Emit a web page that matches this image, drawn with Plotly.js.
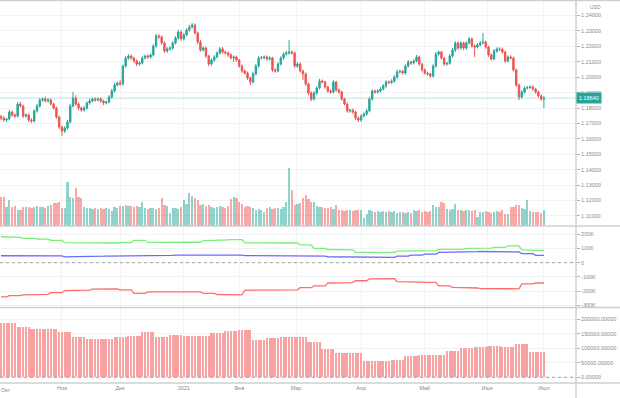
<!DOCTYPE html>
<html><head><meta charset="utf-8">
<script src="https://cdn.plot.ly/plotly-3.0.1.min.js"></script>
<style>html,body{margin:0;padding:0;background:#fff}#chart{width:620px;height:398px}</style>
</head><body><div id="chart"></div>
<script>
// ---------- data ----------
const monthLabels = ['Окт','Ноя','Дек','2021','Фев','Мар','Апр','Май','Июн','Июл'];
const monthStartBar = [0,22,43,66,86,106.5,130,153,175.5,196];
const priceTicks = [1.11,1.12,1.13,1.14,1.15,1.16,1.17,1.18,1.19,1.20,1.21,1.22,1.23,1.24];
const cotTicks = [200000,100000,0,-100000,-200000,-300000];
const cotTickText = ['200K','100K','0','-100K','-200K','-300K'];
const histTicks = [0,50000,100000,150000,200000];
const lastPrice = 1.18640;

const firstOpen = 1.1745;
const closes = [
1.1735,1.1722,1.1729,1.1774,1.1755,1.1748,1.1826,1.1813,1.1748,1.1755,
1.1722,1.1716,1.1781,1.1813,1.1852,1.1858,1.1846,1.1852,1.1826,1.1800,
1.1742,1.1677,1.1651,1.1670,1.1709,1.1813,1.1865,1.1826,1.1800,1.1787,
1.1800,1.1833,1.1846,1.1858,1.1852,1.1858,1.1846,1.1833,1.1839,1.1871,
1.1910,1.1949,1.1962,1.1956,1.2072,1.2124,1.2137,1.2124,1.2105,1.2085,
1.2092,1.2124,1.2137,1.2131,1.2144,1.2202,1.2267,1.2261,1.2222,1.2170,
1.2183,1.2189,1.2222,1.2254,1.2293,1.2248,1.2274,1.2306,1.2325,1.2338,
1.2287,1.2228,1.2176,1.2189,1.2137,1.2085,1.2111,1.2131,1.2157,1.2183,
1.2163,1.2157,1.2144,1.2124,1.2131,1.2111,1.2072,1.2040,1.2027,1.1995,
1.1969,1.2021,1.2072,1.2124,1.2127,1.2131,1.2118,1.2124,1.2047,1.2040,
1.2085,1.2124,1.2150,1.2157,1.2163,1.2157,1.2072,1.2085,1.2040,1.2021,
1.1956,1.1897,1.1858,1.1897,1.1930,1.1975,1.1969,1.1936,1.1910,1.1904,
1.1969,1.1917,1.1904,1.1858,1.1826,1.1781,1.1785,1.1774,1.1735,1.1722,
1.1748,1.1761,1.1781,1.1858,1.1910,1.1904,1.1910,1.1923,1.1943,1.1969,
1.1966,1.1975,1.2001,1.2034,1.2038,1.2027,1.2072,1.2098,1.2092,1.2105,
1.2131,1.2085,1.2047,1.2027,1.2021,1.2008,1.2072,1.2150,1.2163,1.2124,
1.2085,1.2090,1.2137,1.2176,1.2222,1.2189,1.2222,1.2189,1.2222,1.2248,
1.2202,1.2196,1.2209,1.2222,1.2228,1.2196,1.2144,1.2118,1.2170,1.2183,
1.2180,1.2163,1.2105,1.2131,1.2124,1.2047,1.1949,1.1871,1.1904,1.1930,
1.1933,1.1936,1.1923,1.1904,1.1878,1.1858,1.1864];
const upperWickPips = [
10,12,8,14,10,9,12,15,8,10, 9,12,10,14,12,10,16,11,9,8,
10,9,8,12,14,15,39,18,10,9, 12,10,14,9,11,10,12,8,10,12,
14,16,12,20,10,14,12,10,9,11, 10,12,9,11,10,12,14,12,10,9,
12,10,11,12,14,10,12,11,14,13, 10,9,12,10,9,8,11,12,10,13,
12,10,9,11,10,9,8,10,9,10, 8,12,14,12,10,11,9,12,8,10,
12,11,10,12,78,10,9,12,10,8, 9,8,10,12,11,14,10,9,8,10,
14,8,10,9,8,10,9,11,8,9, 12,10,13,14,12,10,11,12,13,12,
10,11,12,14,10,9,12,13,10,11, 13,9,8,10,9,8,12,14,10,8,
9,10,12,14,12,10,11,9,12,14, 10,11,12,13,59,9,8,10,12,11,
10,12,9,10,11,9,8,9,12,10, 11,10,12,9,8,10,12];
const lowerWickPips = [
12,10,14,9,11,12,10,9,12,10, 14,12,9,10,11,12,10,12,11,10,
12,14,31,12,10,9,10,12,14,11, 10,9,12,10,11,9,12,14,10,9,
10,11,9,12,10,9,11,10,12,14, 11,10,9,12,10,9,10,12,11,13,
12,10,11,9,10,12,10,9,11,10, 9,11,12,10,12,14,10,11,9,10,
11,10,12,9,26,10,11,12,10,12, 20,10,9,11,10,12,11,10,12,11,
10,9,11,10,12,10,11,12,10,39, 12,14,12,10,11,9,10,12,11,12,
10,11,12,10,9,11,12,10,12,13, 12,10,11,9,10,11,12,10,9,11,
10,9,11,12,10,11,10,9,12,10, 9,11,12,10,11,12,10,9,11,12,
10,11,9,10,12,11,10,12,11,10, 11,65,10,9,10,11,12,10,9,11,
10,11,12,10,9,11,12,19,10,11, 10,9,11,12,10,11,58];
const volumes = [
29,29,19,26,19,20,16,16,19,19, 19,18,19,20,19,19,18,20,21,23,
23,24,18,18,44,29,28,38,29,28, 19,18,18,17,18,17,18,17,18,17,
15,19,18,20,20,21,20,20,19,20, 19,24,18,17,18,18,17,18,28,21,
20,13,18,18,17,19,26,22,33,30, 28,26,21,22,20,21,19,18,19,20,
19,18,20,27,29,28,24,22,19,20, 19,18,16,17,16,14,18,19,17,18,
18,17,19,24,58,36,21,22,23,28, 31,27,24,24,20,19,19,18,18,19,
17,21,16,16,15,16,16,15,16,16, 16,8,12,16,15,14,15,14,15,14,
15,14,15,13,14,14,13,14,13,16, 15,16,14,15,14,15,21,19,19,24,
23,17,16,17,22,16,16,15,16,16, 15,16,9,14,14,15,14,13,14,15,
14,16,12,12,19,19,21,21,18,17, 26,15,14,14,14,13,16];
// weekly COT values, thousands of contracts
const cotGreenK = [183,178,172,166,157,141,137,136,139,142,158,143,143,143,144,156,161,162,140,139,139,139,125,101,93,91,73,72,72,82,84,85,94,96,101,103,108,118,90,87];
const cotBlueK  = [49,50,50,49,48,41,44,46,47,47,52,51,52,54,56,56,55,54,50,49,49,49,50,47,42,41,38,37,38,46,54,60,73,77,78,79,78,76,64,52];
const cotRedK   = [-240,-232,-226,-223,-211,-196,-193,-186,-185,-191,-216,-205,-204,-203,-205,-216,-224,-226,-193,-192,-192,-191,-176,-163,-143,-140,-127,-114,-113,-133,-137,-139,-163,-173,-178,-182,-183,-184,-149,-143];
const histWeeklyK = [186,172,165,165,155,138,133,133,139,141,157,140,146,142,142,152,160,163,129,137,138,138,121,97,83,83,57,57,61,74,78,78,92,100,106,109,104,115,86];

// ---------- build ----------
const idx = closes.map((_, i) => i);
const opens = [firstOpen].concat(closes.slice(0, -1));
const highs = closes.map((c, i) => Math.max(c, opens[i]) + upperWickPips[i] / 10000);
const lows  = closes.map((c, i) => Math.min(c, opens[i]) - lowerWickPips[i] / 10000);
const volColors = closes.map((c, i) => c >= opens[i] ? 'rgba(38,166,154,0.5)' : 'rgba(239,83,80,0.5)');
const lineWeek = i => i < 3 ? 0 : Math.min(cotGreenK.length - 1, Math.floor((i - 3) / 5) + 1);
const histWeek = i => i < 6 ? 0 : Math.min(histWeeklyK.length - 1, Math.floor((i - 6) / 5) + 1);
const greenDaily = idx.map(i => cotGreenK[lineWeek(i)] * 1000);
const blueDaily  = idx.map(i => cotBlueK[lineWeek(i)] * 1000);
const redDaily   = idx.map(i => cotRedK[lineWeek(i)] * 1000);
const histDaily  = idx.map(i => histWeeklyK[histWeek(i)] * 1000);

const FONT = 'Liberation Sans, Arial, sans-serif';
const tickFont = {family: FONT, size: 5.5, color: '#8a8a8a'};
const sep = '#cfcfcf';

const traces = [
  {type:'bar', x: idx, y: volumes, yaxis:'y2', marker:{color: volColors, line:{width:0}}, width:0.8, hoverinfo:'skip'},
  {type:'candlestick', x: idx, open: opens, high: highs, low: lows, close: closes, xaxis:'x', yaxis:'y',
   increasing:{line:{color:'#26a69a', width:1}, fillcolor:'#26a69a'},
   decreasing:{line:{color:'#ef5350', width:1}, fillcolor:'#ef5350'},
   whiskerwidth:0, hoverinfo:'skip'},
  {type:'scatter', mode:'lines', x: idx, y: greenDaily, yaxis:'y3', line:{color:'#78f078', width:1.3}, hoverinfo:'skip'},
  {type:'scatter', mode:'lines', x: idx, y: blueDaily, yaxis:'y3', line:{color:'#6a6aff', width:1.3}, hoverinfo:'skip'},
  {type:'scatter', mode:'lines', x: idx, y: redDaily, yaxis:'y3', line:{color:'#ff6c6c', width:1.3}, hoverinfo:'skip'},
  {type:'bar', x: idx, y: histDaily, yaxis:'y4', marker:{color:'#f8a3a3', line:{width:0}}, width:0.75, hoverinfo:'skip'}
];

const yCommon = {side:'right', anchor:'x', ticks:'outside', ticklen:3, tickcolor:'#b0b0b0',
  tickfont: tickFont, showgrid:true, gridcolor:'#f2f3f5', zeroline:false, showline:false, fixedrange:true};
const xR = 620/576;
const layout = {
  width:620, height:398, margin:{l:0, r:44, t:0, b:15},
  paper_bgcolor:'#ffffff', plot_bgcolor:'#ffffff', showlegend:false, bargap:0,
  xaxis:{range:[-0.361, 207.58], tickvals: monthStartBar, ticktext: monthLabels, tickfont: tickFont,
    showgrid:true, gridcolor:'#f2f3f5', zeroline:false, showline:false, ticks:'', anchor:'y4',
    rangeslider:{visible:false}, fixedrange:true},
  yaxis: Object.assign({}, yCommon, {domain:[0.4099, 1], range:[1.10349, 1.25005], tickvals: priceTicks, tickformat:'.5f'}),
  yaxis2:{overlaying:'y', range:[0, 226], visible:false, fixedrange:true},
  yaxis3: Object.assign({}, yCommon, {domain:[0.1971, 0.4099], range:[-315500, 258500], tickvals: cotTicks, ticktext: cotTickText}),
  yaxis4: Object.assign({}, yCommon, {domain:[0, 0.1971], range:[-19700, 240700], tickvals: histTicks, tickformat:'.5f'}),
  shapes:[
    {type:'line', xref:'paper', yref:'y', x0:0, x1:1, y0:lastPrice, y1:lastPrice, line:{color:'rgba(38,166,154,0.3)', width:1}},
    {type:'line', xref:'paper', yref:'y3', x0:0, x1:1, y0:0, y1:0, line:{color:'#a0a0a0', width:1, dash:'dot'}},
    {type:'line', xref:'paper', yref:'y4', x0:0, x1:1, y0:0, y1:0, line:{color:'#a0a0a0', width:1, dash:'dot'}},
    {type:'line', xref:'paper', yref:'paper', x0:0, x1:xR, y0:0.999, y1:0.999, line:{color:sep, width:1.5}},
    {type:'line', xref:'paper', yref:'paper', x0:0, x1:xR, y0:0.4099, y1:0.4099, line:{color:sep, width:1.5}},
    {type:'line', xref:'paper', yref:'paper', x0:0, x1:xR, y0:0.1971, y1:0.1971, line:{color:sep, width:1.5}},
    {type:'line', xref:'paper', yref:'paper', x0:0, x1:xR, y0:0, y1:0, line:{color:sep, width:1.5}},
    {type:'line', xref:'paper', yref:'paper', x0:1, x1:1, y0:-0.04, y1:1, line:{color:sep, width:1.5}}
  ],
  annotations:[
    {xref:'paper', yref:'y', x:1, xanchor:'left', y:lastPrice, yanchor:'middle', text: lastPrice.toFixed(5),
     showarrow:false, bgcolor:'#26a69a', font:{family:FONT, size:5.5, color:'#ffffff'}, borderpad:2},
    {xref:'paper', yref:'paper', x:1.033, xanchor:'center', y:0.983, yanchor:'middle', text:'USD',
     showarrow:false, font:{family:FONT, size:5, color:'#8a8a8a'}},
    {xref:'paper', yref:'paper', x:0, xanchor:'left', y:-0.0075, yanchor:'top', text: monthLabels[0],
     showarrow:false, font: tickFont, borderpad:0}
  ]
};
Plotly.newPlot('chart', traces, layout, {staticPlot:true, displayModeBar:false});
</script></body></html>
